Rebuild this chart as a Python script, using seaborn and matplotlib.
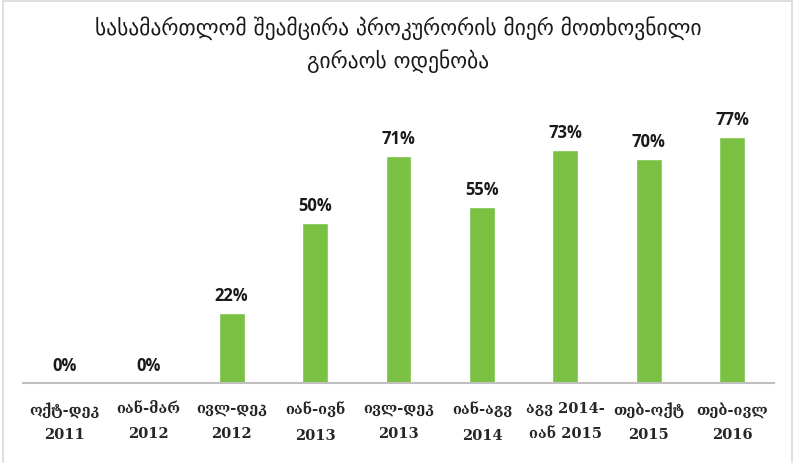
import matplotlib
matplotlib.use("Agg")
import matplotlib.pyplot as plt
import seaborn as sns
import pandas as pd
from matplotlib.patches import Rectangle

periods = ["ოქტ-დეკ\n2011", "იან-მარ\n2012", "ივლ-დეკ\n2012", "იან-ივნ\n2013",
           "ივლ-დეკ\n2013", "იან-აგვ\n2014", "აგვ 2014-\nიან 2015",
           "თებ-ოქტ\n2015", "თებ-ივლ\n2016"]
shares = [0, 0, 22, 50, 71, 55, 73, 70, 77]
title = "სასამართლომ შეამცირა პროკურორის მიერ მოთხოვნილი\nგირაოს ოდენობა"

sns.set_style("white")
plt.rcParams['font.family'] = ['DejaVu Sans']

df = pd.DataFrame({"period": periods, "share": shares})

fig = plt.figure(figsize=(7.96, 4.64), dpi=100)
ax = fig.add_axes([0.0289, 0.1724, 0.9435, 0.6196])

sns.barplot(data=df, x="period", y="share", color="#7AC143", width=0.31,
            saturation=1, ax=ax)

ax.set_ylim(0, 90)
ax.set_xlim(-0.5, len(periods) - 0.5)
ax.set_xlabel("")
ax.set_ylabel("")
ax.set_yticks([])
ax.tick_params(axis="x", length=0, pad=13)
for lbl in ax.get_xticklabels():
    lbl.set_family(['DejaVu Serif', 'DejaVu Sans'])
    lbl.set_fontweight("bold")
    lbl.set_fontsize(10.5)
    lbl.set_color("#262626")
    lbl.set_linespacing(1.95)

for s in ["top", "left", "right"]:
    ax.spines[s].set_visible(False)
ax.spines["bottom"].set_color("#BFBFBF")
ax.spines["bottom"].set_linewidth(1.5)

# value labels
for i, v in enumerate(shares):
    ax.text(i, v + 2.8, f"{v}%", ha="center", va="bottom", fontsize=12,
            fontweight="bold", family="Open Sans", color="#1a1a1a")

fig.text(0.5, 0.904, title, ha="center", va="center", fontsize=15.5,
         color="#1a1a1a", linespacing=1.5)

# outer frame
fig.patches.append(Rectangle((3 / 796, -0.05), 789 / 796, 1.05 - 2 / 464,
                             transform=fig.transFigure, fill=False,
                             edgecolor="#D9D9D9", linewidth=1.2))

fig.savefig("out.png", dpi=100)
